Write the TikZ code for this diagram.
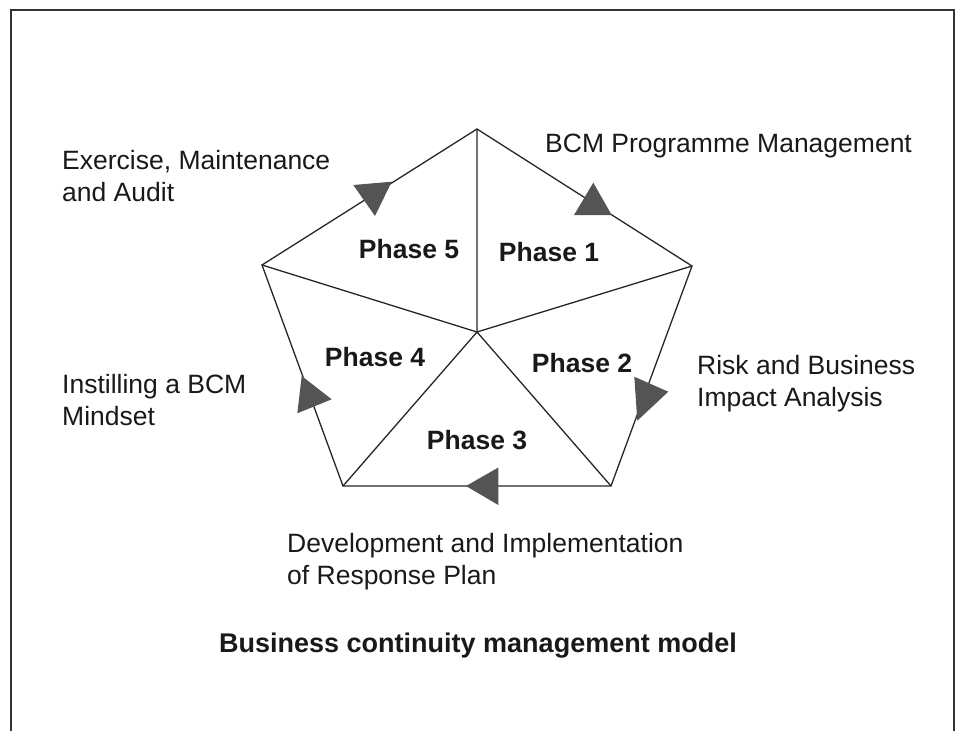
\documentclass[tikz,border=0pt]{standalone}
\usepackage{fontspec}
\setmainfont{Liberation Sans}
\begin{document}
\begin{tikzpicture}[x=1pt,y=-1pt,
  edge/.style={line width=1.3pt,draw=black!85},
  marker/.style={fill=black!67,draw=none},
  lbl/.style={font=\fontsize{26.5}{32}\selectfont,text=black!90,align=left,anchor=west,inner sep=0pt},
  phase/.style={font=\fontsize{26.5}{32}\selectfont\bfseries,text=black!90,inner sep=0pt}]
\useasboundingbox (0,0) rectangle (961,731);
% open frame
\draw[line width=2pt,black!80] (10.7,731) -- (10.7,9.5) -- (954,9.5) -- (954,731);
% pentagon corners and hub
\coordinate (T) at (477,129);
\coordinate (R) at (692,266);
\coordinate (BR) at (611,486);
\coordinate (BL) at (343,486);
\coordinate (L) at (262,265);
\coordinate (C) at (477,332);
\draw[edge] (T) -- (R) -- (BR) -- (BL) -- (L) -- cycle;
\draw[edge] (C) -- (T) (C) -- (R) (C) -- (BR) (C) -- (BL) (C) -- (L);
% direction markers
\fill[marker] (593.3,182.7) -- (574,215) -- (611.7,215) -- cycle;
\fill[marker] (634.3,376.7) -- (668.3,391.7) -- (637.3,420.7) -- cycle;
\fill[marker] (466,486) -- (498.3,467.5) -- (498.3,505) -- cycle;
\fill[marker] (301.7,376) -- (331.7,399.3) -- (297.3,413.3) -- cycle;
\fill[marker] (353.3,185) -- (391.7,181.7) -- (375,216) -- cycle;
% phase names
\node[phase] (p5) at (409,249) {Phase 5};
\node[phase] (p1) at (549,252) {Phase 1};
\node[phase] (p4) at (375,357) {Phase 4};
\node[phase] (p2) at (582,363) {Phase 2};
\node[phase] (p3) at (477,440) {Phase 3};
% stage descriptions
\node[lbl] (d5) at (62,176) {Exercise, Maintenance\\and Audit};
\node[lbl] (d1) at (545,146) {BCM Programme Management};
\node[lbl] (d2) at (697,384) {Risk and Business\\Impact Analysis};
\node[lbl] (d4) at (62,400) {Instilling a BCM\\Mindset};
\node[lbl] (d3) at (287,562) {Development and Implementation\\of Response Plan};
\node[phase,font=\fontsize{27}{32}\selectfont\bfseries] (title) at (478,646) {Business continuity management model};
\end{tikzpicture}
\end{document}
